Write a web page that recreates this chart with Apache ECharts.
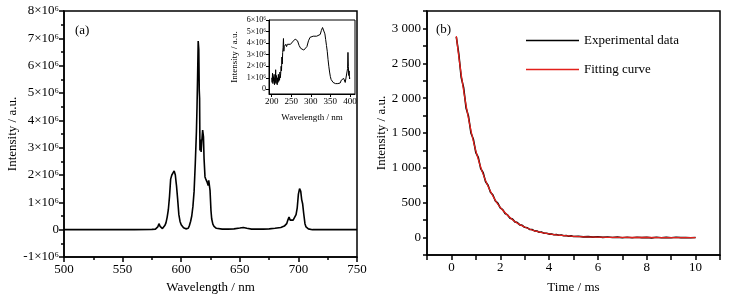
<!DOCTYPE html>
<html>
<head>
<meta charset="utf-8">
<script src="https://cdn.jsdelivr.net/npm/echarts@6.0.0/dist/echarts.min.js"></script>
<style>html,body{margin:0;background:#fff}#chart{width:738px;height:299px}</style>
</head>
<body>
<div id="chart"></div>
<script>
// (a) emission spectrum, intensity in units of 1e6
const emissionNm = [500, 520, 540, 560, 575, 578, 580, 581, 582, 583, 584, 585, 586, 587, 588, 589, 590, 591, 592, 593, 594, 595, 595.6, 596, 597, 598, 599, 600, 602, 604, 605, 606, 607, 608, 609, 610, 611, 612, 613, 613.5, 614, 614.5, 615, 615.4, 615.7, 616, 616.5, 617, 617.5, 618.3, 619, 619.5, 620.3, 621, 622, 623, 623.5, 624.2, 624.6, 625.4, 626, 627, 628, 630, 635, 640, 645, 650, 653, 656, 660, 670, 675, 680, 685, 688, 690, 691, 692, 693, 694.3, 695.5, 697, 698, 699, 700, 701, 701.5, 702, 702.8, 703.6, 704.5, 705.6, 706.5, 708.5, 712, 720, 730, 750]
const emissionVal = [0, 0, 0, 0, 0.01, 0.02, 0.1, 0.22, 0.12, 0.05, 0.04, 0.08, 0.15, 0.25, 0.45, 0.72, 1.2, 1.85, 2.0, 1.98, 2.15, 2.0, 1.75, 1.6, 1.1, 0.55, 0.3, 0.18, 0.07, 0.03, 0.02, 0.05, 0.15, 0.3, 0.5, 0.85, 1.4, 2.4, 3.6, 4.5, 5.6, 6.9, 6.6, 5.1, 4.8, 2.9, 3.3, 2.84, 3.2, 3.64, 3.4, 2.6, 1.93, 1.85, 1.75, 1.62, 1.8, 1.75, 1.44, 0.7, 0.4, 0.2, 0.12, 0.05, 0.02, 0.02, 0.03, 0.06, 0.08, 0.05, 0.02, 0.02, 0.03, 0.05, 0.08, 0.13, 0.22, 0.35, 0.46, 0.35, 0.28, 0.35, 0.4, 0.55, 0.8, 1.3, 1.5, 1.54, 1.4, 1.1, 0.95, 0.6, 0.22, 0.1, 0.03, 0, 0, 0, 0]

// inset: excitation spectrum, units of 1e6
const excitationNm = [200, 201, 202, 203, 204, 205, 206, 207, 208, 209, 210, 211, 212, 213, 214, 215, 216, 217, 218, 219, 220, 221, 222, 223, 224, 225, 226, 227, 228, 229, 230, 231, 232, 234, 236, 238, 240, 242, 245, 248, 250, 253, 256, 260, 263, 266, 270, 274, 278, 282, 286, 290, 294, 298, 302, 306, 310, 315, 320, 324, 327, 330, 332, 334, 336, 338, 340, 342, 344, 346, 348, 350, 352, 354, 357, 360, 363, 366, 369, 372, 375, 378, 380, 382, 384, 386, 388, 390, 392, 393, 394, 395, 396, 397, 398, 399, 400]
const excitationVal = [1.0, 0.6, 1.4, 0.5, 1.1, 0.7, 1.3, 0.4, 1.0, 0.6, 1.7, 0.5, 1.2, 0.9, 0.4, 1.0, 0.6, 1.3, 0.7, 1.1, 0.8, 1.5, 1.0, 1.4, 2.0, 1.6, 2.8, 2.2, 3.2, 3.6, 4.4, 3.3, 3.7, 3.6, 3.9, 3.7, 3.9, 3.8, 3.9, 3.9, 4.0, 4.1, 4.2, 4.35, 4.4, 4.2, 3.8, 3.55, 3.45, 3.4, 3.45, 3.7, 4.2, 4.5, 4.6, 4.6, 4.62, 4.6, 4.65, 4.75, 5.1, 5.35, 5.4, 5.2, 4.8, 4.3, 3.8, 3.3, 2.6, 2.0, 1.5, 1.1, 0.85, 0.7, 0.6, 0.55, 0.5, 0.6, 0.5, 0.65, 0.55, 0.8, 0.9, 0.7, 0.95, 0.8, 0.6, 0.5, 0.45, 0.4, 1.8, 3.2, 2.0, 1.2, 1.6, 0.9, 1.0]

// (b) decay curve
const decayTime = [0.2, 0.3, 0.4, 0.5, 0.6, 0.7, 0.8, 0.9, 1.0, 1.1, 1.2, 1.3, 1.4, 1.5, 1.6, 1.7, 1.8, 1.9, 2.0, 2.1, 2.2, 2.3, 2.4, 2.5, 2.6, 2.7, 2.8, 2.9, 3.0, 3.1, 3.2, 3.3, 3.4, 3.5, 3.6, 3.7, 3.8, 3.9, 4.0, 4.1, 4.2, 4.3, 4.4, 4.5, 4.6, 4.7, 4.8, 4.9, 5.0, 5.2, 5.4, 5.6, 5.8, 6.0, 6.2, 6.4, 6.6, 6.8, 7.0, 7.2, 7.4, 7.6, 7.8, 8.0, 8.2, 8.4, 8.6, 8.8, 9.0, 9.2, 9.4, 9.6, 9.8, 10.0]
const decayExp = [2880, 2640, 2300, 2150, 1860, 1740, 1500, 1410, 1220, 1150, 990, 930, 800, 750, 650, 610, 525, 495, 425, 400, 345, 325, 278, 265, 225, 215, 182, 176, 148, 142, 118, 116, 96, 95, 77, 78, 62, 63, 50, 52, 40, 44, 33, 36, 26, 29, 20, 24, 16, 20, 10, 14, 6, 11, 3, 8, 0, 6, -2, 5, -3, 4, -1, 3, -4, 5, -2, 3, -3, 4, -1, 2, -2, 1]
const fitTime = [0.2, 0.4, 0.6, 0.8, 1.0, 1.25, 1.5, 1.75, 2.0, 2.5, 3.0, 3.5, 4.0, 4.5, 5.0, 6.0, 7.0, 8.0, 9.0, 10.0]
const fitVal = [2890, 2341, 1896, 1536, 1244, 957, 735, 565, 434, 257, 152, 90, 53, 31, 18, 6, 2, 1, 0, 0]

const font = 'Liberation Serif'
const black = '#000'
const red = '#e3201b'
const thousands = v => String(v).replace(/\B(?=(\d{3})+(?!\d))/g, ' ')
const sci = v => v === 0 ? '0' : v + '×10⁶'

const zip = (xs, ys) => xs.map((x, i) => [x, ys[i]])

const chart = echarts.init(document.getElementById('chart'))
chart.setOption({
  animation: false,
  grid: [
    { left: 64, top: 11, width: 293, height: 246, show: true, borderColor: black, borderWidth: 1.5 },
    { left: 427, top: 11, width: 293, height: 246, show: true, borderColor: black, borderWidth: 1.5 },
    { left: 269, top: 20, width: 86, height: 74, show: true, borderColor: black, borderWidth: 1 }
  ],
  xAxis: [
    {
      gridIndex: 0, type: 'value', min: 500, max: 750, interval: 50,
      name: 'Wavelength / nm', nameLocation: 'middle', nameGap: 24,
      nameTextStyle: { fontFamily: font, fontSize: 13, color: black },
      axisLine: { onZero: false, lineStyle: { color: black, width: 1.5 } },
      axisTick: { length: 5, lineStyle: { color: black, width: 1.5 } },
      minorTick: { show: true, splitNumber: 2, length: 3, lineStyle: { color: black, width: 1.5 } },
      axisLabel: { fontFamily: font, fontSize: 13, color: black, margin: 6 },
      splitLine: { show: false }
    },
    {
      gridIndex: 1, type: 'value', min: -1, max: 11, interval: 1,
      name: 'Time / ms', nameLocation: 'middle', nameGap: 26,
      nameTextStyle: { fontFamily: font, fontSize: 13, color: black },
      axisLine: { onZero: false, lineStyle: { color: black, width: 1.5 } },
      axisTick: { length: 5, lineStyle: { color: black, width: 1.5 } },
      axisLabel: { fontFamily: font, fontSize: 13, color: black, margin: 6,
        formatter: v => (v % 2 === 0 ? v : '') },
      splitLine: { show: false }
    },
    {
      gridIndex: 2, type: 'value', min: 193, max: 413,
      name: 'Wavelength / nm', nameLocation: 'middle', nameGap: 19,
      nameTextStyle: { fontFamily: font, fontSize: 9, color: black },
      axisLine: { onZero: false, lineStyle: { color: black, width: 1 } },
      axisTick: { length: 3, customValues: [200, 250, 300, 350, 400], lineStyle: { color: black } },
      axisLabel: { fontFamily: font, fontSize: 9, color: black, margin: 3,
        customValues: [200, 250, 300, 350, 400] },
      splitLine: { show: false }
    }
  ],
  yAxis: [
    {
      gridIndex: 0, type: 'value', min: -1, max: 8, interval: 1,
      name: 'Intensity / a.u.', nameLocation: 'middle', nameGap: 43,
      nameTextStyle: { fontFamily: font, fontSize: 13, color: black },
      axisLine: { onZero: false, lineStyle: { color: black, width: 1.5 } },
      axisTick: { length: 5, lineStyle: { color: black, width: 1.5 } },
      minorTick: { show: true, splitNumber: 2, length: 3, lineStyle: { color: black, width: 1.5 } },
      axisLabel: { fontFamily: font, fontSize: 13, color: black, margin: 5, formatter: sci },
      splitLine: { show: false }
    },
    {
      gridIndex: 1, type: 'value', min: -250, max: 3250, interval: 250,
      name: 'Intensity / a.u.', nameLocation: 'middle', nameGap: 38,
      nameTextStyle: { fontFamily: font, fontSize: 13, color: black },
      axisLine: { onZero: false, lineStyle: { color: black, width: 1.5 } },
      axisTick: { length: 4, lineStyle: { color: black, width: 1.5 } },
      axisLabel: { fontFamily: font, fontSize: 13, color: black, margin: 6,
        formatter: v => (v % 500 === 0 ? thousands(v) : '') },
      splitLine: { show: false }
    },
    {
      gridIndex: 2, type: 'value', min: -0.4, max: 6,
      name: 'Intensity / a.u.', nameLocation: 'middle', nameGap: 30,
      nameTextStyle: { fontFamily: font, fontSize: 9, color: black },
      axisLine: { onZero: false, lineStyle: { color: black, width: 1 } },
      axisTick: { length: 3, customValues: [0, 1, 2, 3, 4, 5, 6], lineStyle: { color: black } },
      axisLabel: { fontFamily: font, fontSize: 8, color: black, margin: 3,
        customValues: [0, 1, 2, 3, 4, 5, 6], formatter: sci },
      splitLine: { show: false }
    }
  ],
  legend: {
    orient: 'vertical', left: 521, top: 29, itemWidth: 53, itemHeight: 14, itemGap: 16,
    textStyle: { fontFamily: font, fontSize: 13, color: black },
    data: [
      { name: 'Experimental data', icon: 'path://M0,6.5H53V8H0Z', itemStyle: { color: black } },
      { name: 'Fitting curve', icon: 'path://M0,6.5H53V8H0Z', itemStyle: { color: red } }
    ]
  },
  graphic: [
    { type: 'text', left: 75, top: 24, style: { text: '(a)', font: '13px "Liberation Serif"', fill: black } },
    { type: 'text', left: 436, top: 23, style: { text: '(b)', font: '13px "Liberation Serif"', fill: black } }
  ],
  series: [
    {
      type: 'line', xAxisIndex: 0, yAxisIndex: 0, symbol: 'none',
      lineStyle: { color: black, width: 1.6 }, data: zip(emissionNm, emissionVal)
    },
    {
      type: 'line', xAxisIndex: 2, yAxisIndex: 2, symbol: 'none',
      lineStyle: { color: black, width: 1 }, data: zip(excitationNm, excitationVal)
    },
    {
      name: 'Experimental data', type: 'line', xAxisIndex: 1, yAxisIndex: 1, symbol: 'none',
      itemStyle: { color: black }, lineStyle: { color: black, width: 1.6 }, data: zip(decayTime, decayExp)
    },
    {
      name: 'Fitting curve', type: 'line', xAxisIndex: 1, yAxisIndex: 1, symbol: 'none', smooth: true,
      itemStyle: { color: red }, lineStyle: { color: red, width: 1.3 }, data: zip(fitTime, fitVal)
    }
  ]
})
</script>
</body>
</html>
